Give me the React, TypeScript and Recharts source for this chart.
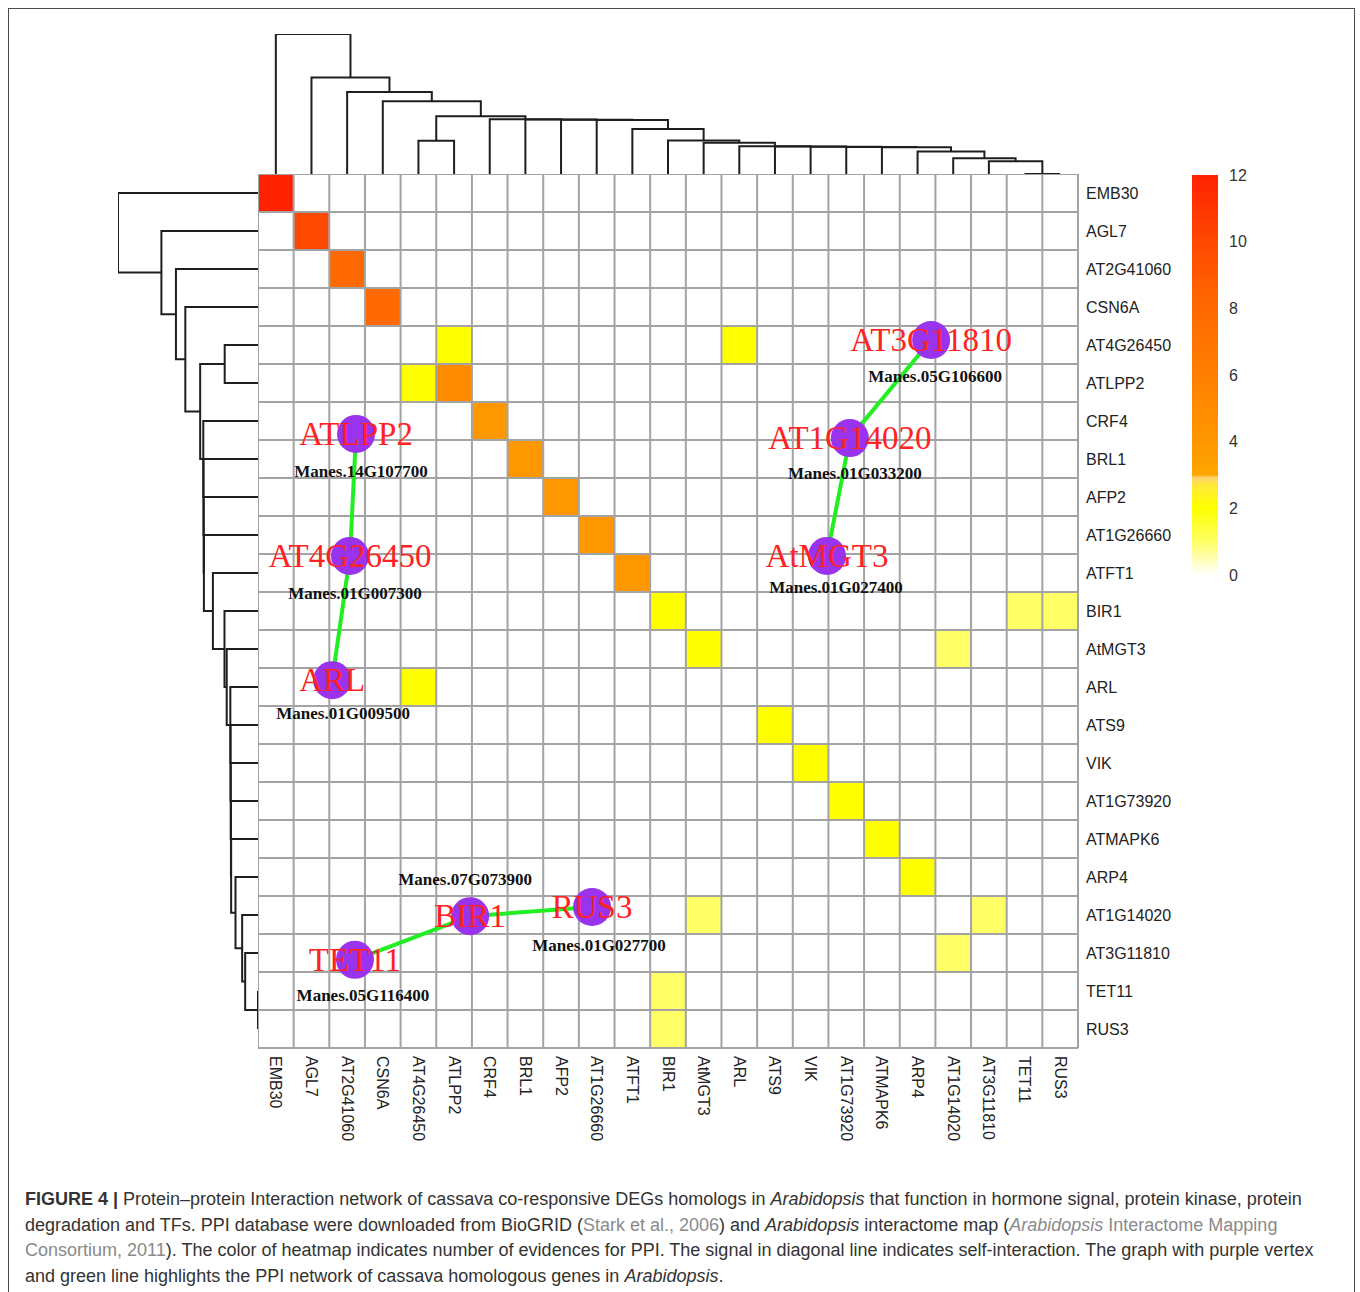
import React from "react";
import {
  ScatterChart, Scatter, XAxis, YAxis, ReferenceArea, ReferenceLine, BarChart, Bar,
} from "recharts";

// genes in dendrogram order (rows = columns)
const genes = [
  "EMB30", "AGL7", "AT2G41060", "CSN6A", "AT4G26450", "ATLPP2", "CRF4", "BRL1",
  "AFP2", "AT1G26660", "ATFT1", "BIR1", "AtMGT3", "ARL", "ATS9", "VIK",
  "AT1G73920", "ATMAPK6", "ARP4", "AT1G14020", "AT3G11810", "TET11", "RUS3",
];

// number of evidences for self-interaction (diagonal)
const selfCounts = [12, 10, 8, 8, 0, 5, 4, 4, 4, 4, 4, 2, 2, 0, 2, 2, 2, 2, 2, 0, 0, 0, 0];

// off-diagonal interactions (symmetric)
const pairFrom = ["AT4G26450", "AT4G26450", "BIR1", "BIR1", "AtMGT3", "AT1G14020"];
const pairTo = ["ATLPP2", "ARL", "TET11", "RUS3", "AT1G14020", "AT3G11810"];
const pairCounts = [2, 2, 1, 1, 1, 1];

// hclust-style merges: negative = leaf (1-based), positive = earlier merge
const mergeLeft = [-22, -21, -20, -19, -18, -17, -16, -15, -14, -13, -5, -12, -11, -10, -9, -8, -7, 11, -4, -3, -2, -1];
const mergeRight = [-23, 1, 2, 3, 4, 5, 6, 7, 8, 9, -6, 10, 12, 13, 14, 15, 16, 17, 18, 19, 20, 21];
const mergeHeight = [0, 1.27, 1.57, 2.23, 2.66, 2.68, 2.7, 2.72, 2.74, 3.1, 3.3, 3.32, 4.47, 5.36, 5.38, 5.4, 5.42, 5.73, 7.2, 8.13, 9.57, 13.87];

const keyTicks = [0, 2, 4, 6, 8, 10, 12];

// PPI network of cassava homologs, vertices placed in heatmap cell units
const nodeNames = ["ATLPP2", "AT4G26450", "ARL", "AT3G11810", "AT1G14020", "AtMGT3", "TET11", "BIR1", "RUS3"];
const nodeManes = [
  "Manes.14G107700", "Manes.01G007300", "Manes.01G009500", "Manes.05G106600", "Manes.01G033200",
  "Manes.01G027400", "Manes.05G116400", "Manes.07G073900", "Manes.01G027700",
];
const nodeCol = [2.75, 2.58, 2.08, 18.88, 16.6, 15.96, 2.72, 5.95, 9.37];
const nodeRow = [6.84, 10.05, 13.32, 4.37, 6.95, 10.05, 20.68, 19.53, 19.29];
const edgeFrom = ["ATLPP2", "AT4G26450", "AT3G11810", "AT1G14020", "TET11", "BIR1"];
const edgeTo = ["AT4G26450", "ARL", "AT1G14020", "AtMGT3", "BIR1", "RUS3"];

// ---- styling ----
const SANS = "'Liberation Sans', Arial, Helvetica, sans-serif";
const SERIF = "'Liberation Serif', 'Times New Roman', serif";
const GRID = "#a3a3a3";
const DENDRO = "#1e1e1e";

const keyStops: [number, string][] = [
  [0, "#ffffff"], [1, "#ffff66"], [2, "#ffff00"], [2.7, "#ffe838"], [2.93, "#ffcf70"],
  [3, "#ffa600"], [4, "#ff9800"], [5, "#ff8c00"], [6, "#ff7e00"], [8, "#ff6a00"],
  [10, "#ff4800"], [12, "#ff2200"],
];

const manesOffset: Record<string, [number, number]> = {
  ATLPP2: [5, 38], AT4G26450: [5, 38], ARL: [11, 33], AT3G11810: [4, 36], AT1G14020: [5, 35],
  AtMGT3: [9, 32], TET11: [8, 36], BIR1: [-5, -37], RUS3: [7, 38],
};

function hexToRgb(h: string) {
  return [1, 3, 5].map((i) => parseInt(h.slice(i, i + 2), 16));
}
function colorFor(v: number) {
  for (let k = 1; k < keyStops.length; k++) {
    const [v1, c1] = keyStops[k];
    if (v <= v1) {
      const [v0, c0] = keyStops[k - 1];
      const t = (v - v0) / (v1 - v0);
      const a = hexToRgb(c0), b = hexToRgb(c1);
      return `rgb(${a.map((x, i) => Math.round(x + (b[i] - x) * t)).join(",")})`;
    }
  }
  return keyStops[keyStops.length - 1][1];
}

// ---- derived ----
const centers = genes.map((_, i) => i + 0.5);
const gridPos = Array.from({ length: genes.length + 1 }, (_, i) => i);

const cells: { row: number; col: number; v: number }[] = [];
selfCounts.forEach((v, i) => { if (v > 0) cells.push({ row: i, col: i, v }); });
pairFrom.forEach((a, k) => {
  const i = genes.indexOf(a), j = genes.indexOf(pairTo[k]);
  cells.push({ row: i, col: j, v: pairCounts[k] }, { row: j, col: i, v: pairCounts[k] });
});

const nodePos: number[] = [];
const posOf = (ref: number) => (ref < 0 ? -ref - 1 + 0.5 : nodePos[ref - 1]);
const heightOf = (ref: number) => (ref < 0 ? 0 : mergeHeight[ref - 1]);
const dendroLinks = mergeLeft.map((l, k) => {
  const r = mergeRight[k];
  const pl = posOf(l), pr = posOf(r);
  nodePos[k] = (pl + pr) / 2;
  return [
    { p: pl, h: heightOf(l) }, { p: pl, h: mergeHeight[k] },
    { p: pr, h: mergeHeight[k] }, { p: pr, h: heightOf(r) },
  ];
});
const rootHeight = Math.max(...mergeHeight);

const nodes = nodeNames.map((name, i) => ({ name, manes: nodeManes[i], x: nodeCol[i], y: nodeRow[i] }));
const edges = edgeFrom.map((a, k) => {
  const s = nodes.find((n) => n.name === a)!, t = nodes.find((n) => n.name === edgeTo[k])!;
  return [{ x: s.x, y: s.y }, { x: t.x, y: t.y }];
});

const noDot = () => <g />;
const zero = { top: 0, right: 0, bottom: 0, left: 0 };

function ColumnTick(props: any) {
  const { x, y, payload } = props;
  return (
    <text x={x} y={y} transform={`rotate(90 ${x} ${y})`} textAnchor="start" dominantBaseline="central"
      fontSize={16} fill="#222" fontFamily={SANS}>
      {genes[Math.floor(payload.value)]}
    </text>
  );
}

function NodeShape(props: any) {
  const { cx, cy, payload } = props;
  const [dx, dy] = manesOffset[payload.name];
  return (
    <g>
      <circle cx={cx} cy={cy} r={19} fill="#9933ee" />
      <text x={cx} y={cy + 11} textAnchor="middle" fontSize={33} fontFamily={SERIF} fill="#ff2222">
        {payload.name}
      </text>
      <text x={cx + dx} y={cy + dy} textAnchor="middle" dominantBaseline="central" fontSize={17}
        fontWeight="bold" fontFamily={SERIF} fill="#111">
        {payload.manes}
      </text>
    </g>
  );
}

export default function App() {
  const gray = { color: "#8a8a8a" };
  return (
    <div style={{ position: "absolute", left: 0, top: 0, width: 1360, height: 1292, background: "#fff" }}>
      <div style={{
        position: "absolute", left: 8, top: 8, width: 1347, height: 1284, borderTop: "1.5px solid #4a4a4a",
        borderLeft: "1.5px solid #4a4a4a", borderRight: "1.5px solid #4a4a4a", boxSizing: "border-box",
      }} />

      {/* column dendrogram */}
      <div style={{ position: "absolute", left: 258, top: 34 }}>
        <ScatterChart width={820} height={140} margin={zero}>
          <XAxis type="number" dataKey="x" domain={[0, genes.length]} hide allowDataOverflow />
          <YAxis type="number" dataKey="y" domain={[0, rootHeight]} hide allowDataOverflow />
          {dendroLinks.map((seg, k) => (
            <Scatter key={k} data={seg.map((s) => ({ x: s.p, y: s.h }))} line={{ stroke: DENDRO, strokeWidth: 2 }}
              lineType="joint" shape={noDot} isAnimationActive={false} />
          ))}
        </ScatterChart>
      </div>

      {/* row dendrogram */}
      <div style={{ position: "absolute", left: 118, top: 174 }}>
        <ScatterChart width={140} height={874} margin={zero}>
          <XAxis type="number" dataKey="x" domain={[0, rootHeight]} reversed hide allowDataOverflow />
          <YAxis type="number" dataKey="y" domain={[0, genes.length]} reversed hide allowDataOverflow />
          {dendroLinks.map((seg, k) => (
            <Scatter key={k} data={seg.map((s) => ({ x: s.h, y: s.p }))} line={{ stroke: DENDRO, strokeWidth: 2 }}
              lineType="joint" shape={noDot} isAnimationActive={false} />
          ))}
        </ScatterChart>
      </div>

      {/* heatmap + network overlay */}
      <div style={{ position: "absolute", left: 258, top: 174 }}>
        <ScatterChart width={930} height={974} margin={zero}>
          <XAxis type="number" dataKey="x" domain={[0, genes.length]} ticks={centers} interval={0}
            tick={<ColumnTick />} tickLine={false} axisLine={false} height={100} allowDataOverflow />
          <YAxis type="number" dataKey="y" domain={[0, genes.length]} reversed orientation="right" ticks={centers}
            interval={0} tickFormatter={(v: number) => genes[Math.floor(v)]} tickLine={false} axisLine={false}
            width={110} allowDataOverflow tick={{ fontSize: 16, fill: "#222", fontFamily: SANS }} />
          {cells.map((c, k) => (
            <ReferenceArea key={`c${k}`} x1={c.col} x2={c.col + 1} y1={c.row} y2={c.row + 1}
              fill={colorFor(c.v)} fillOpacity={1} stroke="none" ifOverflow="visible" zIndex={100} />
          ))}
          {gridPos.map((i) => (
            <ReferenceLine key={`vx${i}`} x={i} stroke={GRID} strokeWidth={2} ifOverflow="visible" zIndex={200} />
          ))}
          {gridPos.map((i) => (
            <ReferenceLine key={`hy${i}`} y={i} stroke={GRID} strokeWidth={2} ifOverflow="visible" zIndex={200} />
          ))}
          {edges.map((e, k) => (
            <Scatter key={`e${k}`} data={e} line={{ stroke: "#22ee22", strokeWidth: 4 }} lineType="joint"
              shape={noDot} isAnimationActive={false} zIndex={600} />
          ))}
          <Scatter data={nodes} shape={NodeShape} isAnimationActive={false} zIndex={700} />
        </ScatterChart>
      </div>

      {/* colour key */}
      <div style={{ position: "absolute", left: 1192, top: 163 }}>
        <BarChart width={80} height={424} data={[{ name: "key", v: 12 }]}
          margin={{ top: 12, right: 0, bottom: 12, left: 0 }} barCategoryGap={0}>
          <defs>
            <linearGradient id="keyGrad" x1="0" y1="1" x2="0" y2="0">
              {keyStops.map(([v, c]) => <stop key={v} offset={v / 12} stopColor={c} />)}
            </linearGradient>
          </defs>
          <XAxis dataKey="name" hide />
          <YAxis orientation="right" type="number" domain={[0, 12]} ticks={keyTicks} interval={0} width={54}
            tickLine={false} axisLine={false} tickSize={0} tickMargin={11} allowDataOverflow
            tick={{ fontSize: 16, fill: "#333", fontFamily: SANS }} />
          <Bar dataKey="v" fill="url(#keyGrad)" isAnimationActive={false} />
        </BarChart>
      </div>

      {/* caption */}
      <div style={{
        position: "absolute", left: 25, top: 1187, fontFamily: SANS, fontSize: 18, lineHeight: "25.5px",
        color: "#333", whiteSpace: "nowrap",
      }}>
        <div><b>FIGURE 4 |</b> Protein–protein Interaction network of cassava co-responsive DEGs homologs in <i>Arabidopsis</i> that function in hormone signal, protein kinase, protein</div>
        <div>degradation and TFs. PPI database were downloaded from BioGRID (<span style={gray}>Stark et al., 2006</span>) and <i>Arabidopsis</i> interactome map (<span style={gray}><i>Arabidopsis</i> Interactome Mapping</span></div>
        <div><span style={gray}>Consortium, 2011</span>). The color of heatmap indicates number of evidences for PPI. The signal in diagonal line indicates self-interaction. The graph with purple vertex</div>
        <div>and green line highlights the PPI network of cassava homologous genes in <i>Arabidopsis</i>.</div>
      </div>
    </div>
  );
}
